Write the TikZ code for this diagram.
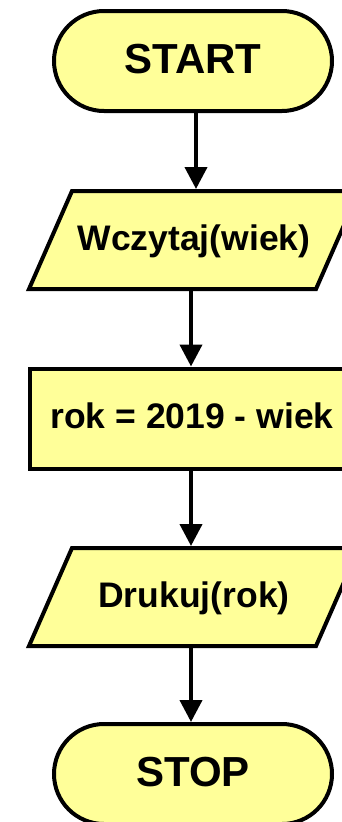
\documentclass[tikz,border=0pt]{standalone}
\usepackage{fontspec}
\setmainfont{Liberation Sans}
\usetikzlibrary{shapes.misc,arrows.meta,backgrounds}
\definecolor{boxfill}{RGB}{255,255,153}
\begin{document}
\begin{tikzpicture}[x=1pt,y=1pt,
  shp/.style={draw=black,fill=boxfill,line width=4pt,line join=miter},
  term/.style={shp,rounded rectangle,minimum width=278pt,minimum height=100pt,inner sep=0pt,
    font=\fontsize{42}{50}\selectfont\bfseries,text height=30.5pt,text depth=6pt},
  iotext/.style={inner sep=0pt,outer sep=2pt,minimum width=283pt,minimum height=98pt,
    font=\fontsize{35.5}{42}\selectfont\bfseries,text height=26pt,text depth=6pt},
  procbox/.style={shp,rectangle,minimum width=324pt,minimum height=100pt,inner sep=0pt,
    font=\fontsize{35.5}{42}\selectfont\bfseries,text height=26pt,text depth=6pt},
  arr/.style={line width=4pt,-{Triangle[length=22pt,width=22pt]}}]
\useasboundingbox (0,0) rectangle (341,-822);
\node[term] (s) at (193,-61) {START};
\node[iotext] (p1) at (194,-240) {Wczytaj(wiek)};
\node[procbox] (r) at (192,-418.5) {rok = 2019 - wiek};
\node[iotext] (p2) at (194,-597) {Drukuj(rok)};
\node[term] (e) at (193,-774) {STOP};
\begin{scope}[on background layer]
  \draw[shp] ([xshift=-21.5pt,yshift=2pt]p1.south west) -- ([xshift=21.5pt,yshift=-2pt]p1.north west)
    -- ([xshift=21.5pt,yshift=-2pt]p1.north east) -- ([xshift=-21.5pt,yshift=2pt]p1.south east) -- cycle;
  \draw[shp] ([xshift=-21.5pt,yshift=2pt]p2.south west) -- ([xshift=21.5pt,yshift=-2pt]p2.north west)
    -- ([xshift=21.5pt,yshift=-2pt]p2.north east) -- ([xshift=-21.5pt,yshift=2pt]p2.south east) -- cycle;
\end{scope}
\draw[arr] ([xshift=3pt]s.south) -- ([xshift=3pt]s.south |- p1.north);
\draw[arr] ([xshift=-1pt]p1.south -| r.north) -- ([xshift=-1pt]r.north);
\draw[arr] ([xshift=-1pt]r.south) -- ([xshift=-1pt]r.south |- p2.north);
\draw[arr] ([xshift=-1pt]p2.south -| r.south) -- ([xshift=-1pt]r.south |- e.north);
\end{tikzpicture}
\end{document}
